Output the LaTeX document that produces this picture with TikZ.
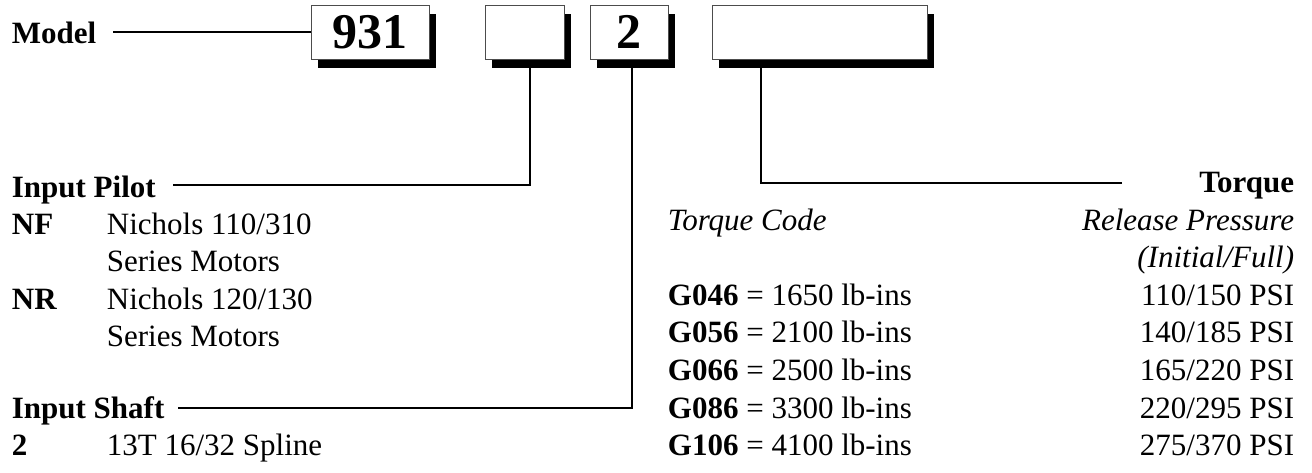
\documentclass[tikz,border=0pt]{standalone}
\usepackage{fontspec}
\setmainfont{Liberation Serif}
\usepackage{tikz}
\usetikzlibrary{shadows}
\newcommand{\code}[1]{{\bfseries #1}}

\begin{document}
\begin{tikzpicture}[x=1pt,y=-1pt,line width=1.8pt,
  every node/.style={inner sep=0pt,font=\fontsize{31}{37}\selectfont},
  txt/.style={anchor=base west},
  txtr/.style={anchor=base east},
  head/.style={anchor=base west,font=\fontsize{31}{37}\selectfont\bfseries},
  note/.style={font=\fontsize{31}{37}\selectfont\itshape},
  field/.style={draw=black!70,line width=1pt,fill=white,minimum height=54pt,
    font=\fontsize{50}{50}\selectfont\bfseries,
    drop shadow={shadow xshift=7pt,shadow yshift=-8.5pt,fill=black,opacity=1}}]

  \useasboundingbox (0,0) rectangle (1312,472);

  \node[field,minimum width=118pt] (b931) at (370,32) {931};
  \node[field,minimum width=79pt] (bpilot) at (524.5,32) {};
  \node[field,minimum width=78pt] (bshaft) at (629,32) {2};
  \node[field,minimum width=215pt] (btorque) at (819.5,32) {};

  \node[head] (model) at (11,43) {Model};

  \node[head] (pilot) at (11,197) {Input Pilot};
  \node[head] (nf) at (11,234) {NF};
  \node[txt] (nfa) at (106,234) {Nichols 110/310};
  \node[txt] (nfb) at (106,271) {Series Motors};
  \node[head] (nr) at (11,309) {NR};
  \node[txt] (nra) at (106,309) {Nichols 120/130};
  \node[txt] (nrb) at (106,346) {Series Motors};

  \node[head] (shaft) at (11,418) {Input Shaft};
  \node[head] (sp) at (11,455) {2};
  \node[txt] (spa) at (106,455) {13T 16/32 Spline};

  \node[head,anchor=base east] (torque) at (1295,192) {Torque};
  \node[txt,note] (tcode) at (667,230) {Torque Code};
  \node[txtr,note] (trel) at (1295,230) {Release Pressure};
  \node[txtr,note] (tfull) at (1295,267) {(Initial/Full)};

  \node[txt] (g046) at (667,305) {\code{G046} = 1650 lb-ins};
  \node[txtr] (p046) at (1295,305) {110/150 PSI};
  \node[txt] (g056) at (667,342) {\code{G056} = 2100 lb-ins};
  \node[txtr] (p056) at (1295,342) {140/185 PSI};
  \node[txt] (g066) at (667,380) {\code{G066} = 2500 lb-ins};
  \node[txtr] (p066) at (1295,380) {165/220 PSI};
  \node[txt] (g086) at (667,418) {\code{G086} = 3300 lb-ins};
  \node[txtr] (p086) at (1295,418) {220/295 PSI};
  \node[txt] (g106) at (667,455) {\code{G106} = 4100 lb-ins};
  \node[txtr] (p106) at (1295,455) {275/370 PSI};

  \coordinate (mend) at (113,32);
  \coordinate (pend) at (173,185);
  \coordinate (pbend) at (530,185);
  \coordinate (send) at (178,408);
  \coordinate (sbend) at (632,408);
  \coordinate (tend) at (1122,183);
  \coordinate (tbend) at (761,183);

  \draw (mend) -- (b931.west);
  \draw (pend) -- (pbend) -- (pbend |- bpilot.south);
  \draw (send) -- (sbend) -- (sbend |- bshaft.south);
  \draw (tend) -- (tbend) -- (tbend |- btorque.south);

\end{tikzpicture}
\end{document}
